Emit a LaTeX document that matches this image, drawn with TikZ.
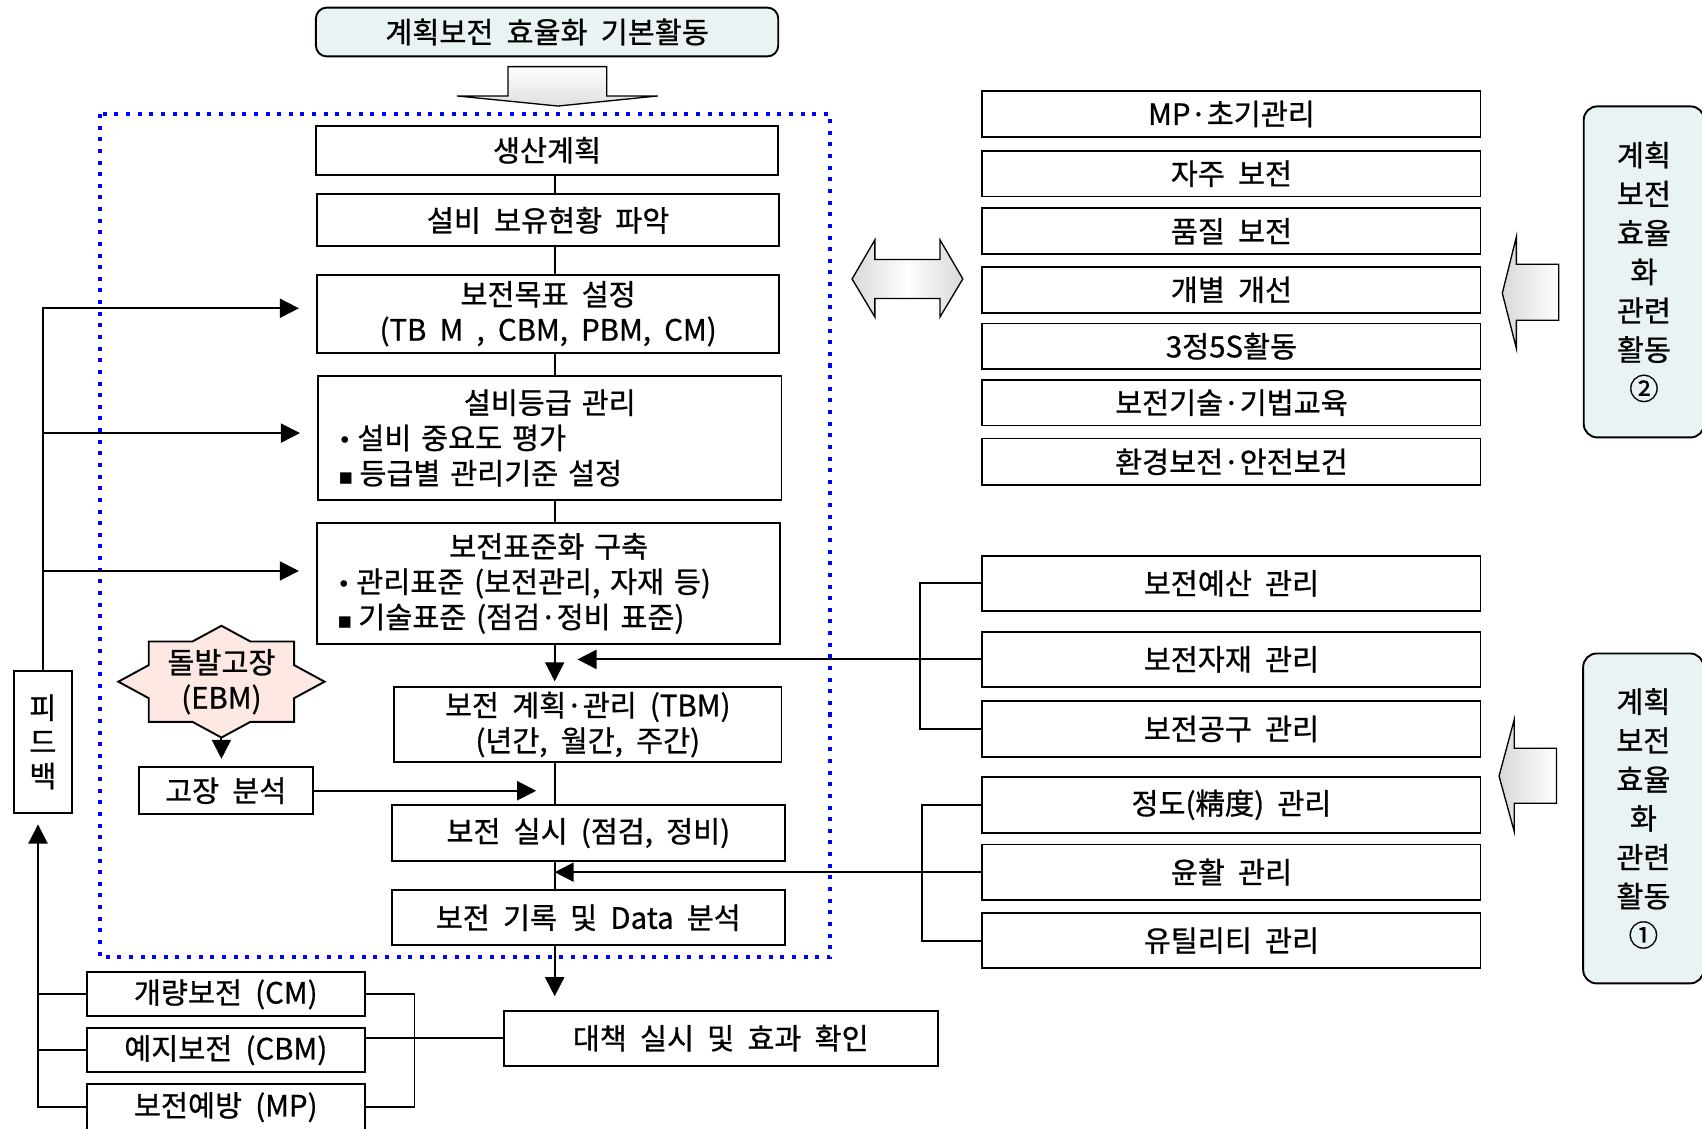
\documentclass[tikz,border=0pt]{standalone}
\usepackage{fontspec}
\setmainfont{Noto Sans CJK KR}[WordSpace=2, FakeBold=0.8]
\newfontfamily\symb{DejaVu Sans}
\usepackage{tikz}
\usetikzlibrary{arrows.meta}
\definecolor{patblue}{RGB}{233,243,243}
\definecolor{patpink}{RGB}{253,232,228}
\setlength{\parindent}{0pt}

\begin{document}
\begin{tikzpicture}[x=0.02cm, y=-0.02cm, >={Triangle[length=10pt,width=10pt]},
  every node/.style={font=\fontsize{15.4}{18.5}\selectfont},
  box/.style={draw, line width=1pt, align=center, inner sep=0pt},
  headbox/.style={box, rounded corners=0.2cm, fill=patblue},
  sidebox/.style={box, rounded corners=0.25cm, fill=patblue, minimum width=2.22cm, font=\fontsize{15.4}{20.4}\selectfont},
  actbox/.style={box, minimum width=9.18cm, minimum height=0.84cm},
  mgmtbox/.style={box, minimum width=9.18cm, minimum height=1.02cm},
  pmbox/.style={box, minimum width=5.12cm, minimum height=0.81cm},
  blockarrow/.style={draw, line width=0.7pt},
  link/.style={line width=1pt}]
\useasboundingbox (0,0) rectangle (1568,1040);

\draw[blue, line width=2.1pt, dash pattern=on 2.1pt off 4pt] (92,105) rectangle (765,882);

\node[headbox, minimum width=8.52cm, minimum height=0.9cm] (head) at (504,29.5) {계획보전 효율화 기본활동};
\shade[blockarrow, top color=white, bottom color=gray!25] (468,61.4) -- (559,61.4) -- (559,88.4) -- (606,88.4) -- (514,97.7) -- (421,88.4) -- (468,88.4) -- cycle;

\node[box, minimum width=8.52cm, minimum height=0.9cm] (plan) at (504,138.5) {생산계획};
\node[box, minimum width=8.52cm, minimum height=0.96cm] (hold) at (505,203) {설비 보유현황 파악};
\node[box, minimum width=8.52cm, minimum height=1.44cm] (goal) at (505,289) {보전목표 설정\\(TB M , CBM, PBM, CM)};
\node[box, minimum width=8.54cm, minimum height=2.3cm, text width=7.8cm, align=left] (grade) at (506.5,403.5)
  {\centering 설비등급 관리\par\raggedright{\symb\fontsize{12}{10}\selectfont •}\hspace{3pt}설비 중요도 평가\\{\symb\fontsize{12}{10}\selectfont ▪}\hspace{3pt}등급별 관리기준 설정};
\node[box, minimum width=8.54cm, minimum height=2.22cm, text width=7.8cm, align=left] (std) at (505.5,537.5)
  {\centering 보전표준화 구축\par\raggedright{\symb\fontsize{12}{10}\selectfont •}\hspace{3pt}관리표준 (보전관리, 자재 등)\\{\symb\fontsize{12}{10}\selectfont ▪}\hspace{3pt}기술표준 (점검·정비 표준)};
\node[box, minimum width=7.14cm, minimum height=1.38cm] (tbm) at (541.5,667.5) {보전 계획·관리 (TBM)\\(년간, 월간, 주간)};
\node[box, minimum width=7.24cm, minimum height=1.02cm] (exec) at (542,767.5) {보전 실시 (점검, 정비)};
\node[box, minimum width=7.24cm, minimum height=1.02cm] (rec) at (542,845.5) {보전 기록 및 Data 분석};
\node[box, minimum width=8cm, minimum height=1.02cm] (act) at (664,956.5) {대책 실시 및 효과 확인};

\coordinate (ebmc) at (204,628);
\filldraw[fill=patpink, line width=1pt] (ebmc) ++(0,-51.5) -- ++(26.7,14.5) -- ++(40.3,0) -- ++(0,21.8) -- ++(28,15.2) -- ++(-28,15.2) -- ++(0,21.8) -- ++(-40.3,0) -- ++(-26.7,14.5) -- ++(-26.7,-14.5) -- ++(-40.3,0) -- ++(0,-21.8) -- ++(-28,-15.2) -- ++(28,-15.2) -- ++(0,-21.8) -- ++(40.3,0) -- cycle;
\node[align=center] (ebm) at (ebmc) {돌발고장\\(EBM)};
\node[box, minimum width=3.2cm, minimum height=0.86cm] (fail) at (208,728.5) {고장 분석};
\node[box, minimum width=1.06cm, minimum height=2.62cm, font=\fontsize{15.4}{17.9}\selectfont] (fb) at (39.5,683.5) {피\\드\\백};
\node[pmbox] (cm) at (208,916) {개량보전 (CM)};
\node[pmbox] (cbm) at (208,967.5) {예지보전 (CBM)};
\node[pmbox, minimum height=0.84cm] (mp) at (208,1020) {보전예방 (MP)};

\shade[blockarrow, left color=gray!30, right color=gray!30, middle color=white] (785,257) -- (806,221) -- (806,239) -- (866,239) -- (866,221) -- (887,257) -- (866,292) -- (866,275) -- (806,275) -- (806,292) -- cycle;

\node[actbox] (mpi) at (1134.5,105) {MP·초기관리};
\node[actbox] (self) at (1134.5,160) {자주 보전};
\node[actbox] (qual) at (1134.5,213) {품질 보전};
\node[actbox] (kaizen) at (1134.5,267) {개별 개선};
\node[actbox] (s35) at (1134.5,319) {3정5S활동};
\node[actbox] (edu) at (1134.5,371) {보전기술·기법교육};
\node[actbox, minimum height=0.86cm] (env) at (1134.5,425.5) {환경보전·안전보건};

\node[mgmtbox] (budget) at (1134.5,537.5) {보전예산 관리};
\node[mgmtbox] (mat) at (1134.5,607.5) {보전자재 관리};
\node[mgmtbox] (tool) at (1134.5,671.5) {보전공구 관리};
\node[mgmtbox] (prec) at (1134.5,741.5) {정도(精度) 관리};
\node[mgmtbox] (lub) at (1134.5,803.5) {윤활 관리};
\node[mgmtbox] (util) at (1134.5,866.5) {유틸리티 관리};

\shade[blockarrow, left color=gray!30, right color=white] (1384,270) -- (1397,218) -- (1397,243.5) -- (1436,243.5) -- (1436,295) -- (1397,295) -- (1397,321) -- cycle;
\shade[blockarrow, left color=gray!30, right color=white] (1381,715) -- (1395,663) -- (1395,689.4) -- (1434,689.4) -- (1434,740) -- (1395,740) -- (1395,766) -- cycle;
\node[sidebox, minimum height=6.1cm] (rel2) at (1514.5,250.5) {계획\\보전\\효율\\화\\관련\\활동\\②};
\node[sidebox, minimum height=6.08cm] (rel1) at (1514,754) {계획\\보전\\효율\\화\\관련\\활동\\①};

\coordinate (sp) at (511,0);
\draw[link] (plan.south -| sp) -- (hold.north -| sp);
\draw[link] (hold.south -| sp) -- (goal.north -| sp);
\draw[link] (goal.south -| sp) -- (grade.north -| sp);
\draw[link] (grade.south -| sp) -- (std.north -| sp);
\draw[link, ->, shorten >=2.5pt] (std.south -| sp) -- (tbm.north -| sp);
\draw[link] (tbm.south -| sp) -- (exec.north -| sp);
\draw[link] (exec.south -| sp) -- (rec.north -| sp);
\draw[link, ->, shorten >=7pt] (rec.south -| sp) -- (act.north -| sp);

\coordinate (tipm) at (532,0);
\draw[link, ->] (mat.west) -- (mat.west -| tipm);
\draw[link, ->] (lub.west) -- (lub.west -| sp);
\draw[link] (budget.west) -- ++(-57,0) |- (tool.west);
\draw[link] (prec.west) -- ++(-55,0) |- (util.west);

\path (ebmc) ++(0,51.5) coordinate (ebmtip);
\draw[link, ->, shorten >=4pt] (ebmtip) -- (fail.north -| ebmtip);
\coordinate (tipf) at (494,0);
\draw[link, ->] (fail.east) -- (fail.east -| tipf);

\coordinate (fbin1) at ([yshift=0.1cm]goal.west);
\coordinate (fbin2) at ([yshift=0.09cm]grade.west);
\coordinate (fbin3) at ([yshift=0.23cm]std.west);
\draw[link, ->, shorten >=9pt] (fb.north) |- (fbin1);
\draw[link, ->, shorten >=9pt] (fb.north |- fbin2) -- (fbin2);
\draw[link, ->, shorten >=9pt] (fb.north |- fbin3) -- (fbin3);

\coordinate (fbup) at ([xshift=-0.09cm]fb.south);
\draw[link, ->, shorten >=5.5pt] (mp.west) -| (fbup);
\draw[link] (cm.west) -- (cm.west -| fbup);
\draw[link] (cbm.west) -- (cbm.west -| fbup);
\draw[link] (cm.east) -- ++(45,0) |- (mp.east);
\draw[link] (act.west -| cbm.east) -- (act.west);
\end{tikzpicture}
\end{document}
